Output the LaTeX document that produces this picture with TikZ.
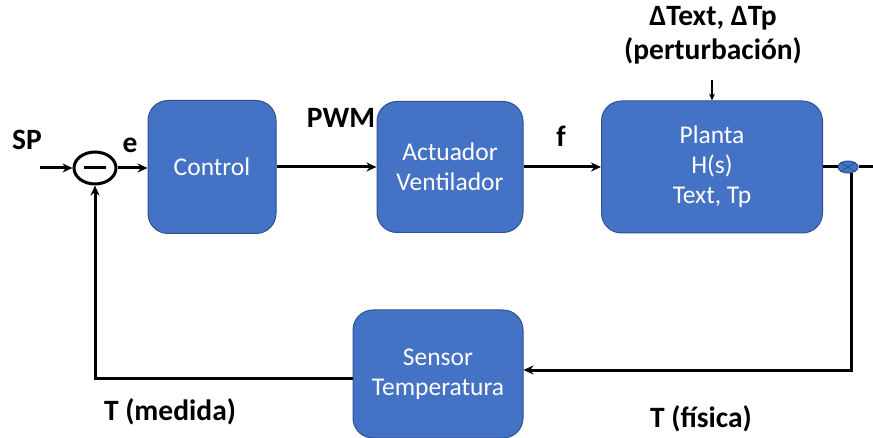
\documentclass[tikz,border=0pt]{standalone}
\usepackage{fontspec}
\setmainfont{Carlito}
\usetikzlibrary{positioning,arrows.meta,shapes.geometric}
\definecolor{blockfill}{HTML}{4472C4}
\definecolor{blockline}{HTML}{2F528F}
\tikzset{
	loop diagram/.style={x=1pt,y=-1pt,>={Stealth[length=10pt,width=9pt]},line width=3pt},
	block/.style={rounded corners=20pt,draw=blockline,line width=1pt,fill=blockfill,
		text=white,align=center,font=\fontsize{25.5}{30}\selectfont},
	signal/.style={font=\fontsize{29.5}{34}\selectfont\bfseries,align=center},
	summer/.style={ellipse,draw,line width=3pt,minimum width=42pt,minimum height=32pt,inner sep=0pt},
	takeoff/.style={ellipse,draw=blockline,line width=1pt,fill=blockfill,minimum width=20pt,minimum height=12pt,inner sep=0pt}
}

\begin{document}
\begin{tikzpicture}[loop diagram]
	\useasboundingbox (0,0) rectangle (873,438);
	
	% blocks of the loop
	\node[block,minimum width=128pt,minimum height=133pt] (control) at (212,167) {Control};
	\node[block,minimum width=146pt,minimum height=131pt] (act) at (450,167) {Actuador\\Ventilador};
	\node[block,minimum width=221pt,minimum height=132pt] (planta) at (712,167) {Planta\\H(s)\\Text, Tp};
	\node[block,minimum width=170pt,minimum height=128pt] (sensor) at (438,374) {Sensor\\Temperatura};
	
	% summing point and take-off point
	\node[summer] (sum) at (95,168) {};
	\draw ([xshift=-11pt]sum.center) -- ([xshift=11pt]sum.center);
	\node[takeoff] (tk) at (848,167) {};
	\draw[blockline,line width=0.8pt] (tk.north west) -- (tk.south east) (tk.south west) -- (tk.north east);
	
	\coordinate (spin) at (40,168);
	\coordinate (out) at (873,167);
	\coordinate (dist) at (712,80);
	\coordinate (fb1) at (851,370);
	\coordinate (fb2) at (95,378);
	
	% forward path
	\draw[->] (spin) -- (sum.west);
	\draw[->] (sum.east) -- (control.west |- sum.east);
	\draw[->] (control.east) -- (act.west);
	\draw[->] (act.east) -- (planta.west);
	\draw (planta.east) -- (tk.west);
	\draw (tk.east) -- (out);
	\draw[->,line width=1.6pt,>={Stealth[length=7pt,width=6pt]}] (dist) -- (planta.north);
	
	% feedback path
	\draw[->] (tk.south -| fb1) -- (fb1) -- (sensor.east |- fb1);
	\draw[->] (sensor.west |- fb2) -- (fb2) -- (sum.south);
	
	% signal labels
	\node[signal] (sp) at (27,140) {SP};
	\node[signal] (e) at (130,145) {e};
	\node[signal] (pwm) at (341,118) {PWM};
	\node[signal] (f) at (561,136) {f};
	\node[signal] (pert) at (713,35) {ΔText, ΔTp\\(perturbación)};
	\node[signal] (tm) at (170,412) {T (medida)};
	\node[signal] (tf) at (701,419) {T (física)};
\end{tikzpicture}
\end{document}
